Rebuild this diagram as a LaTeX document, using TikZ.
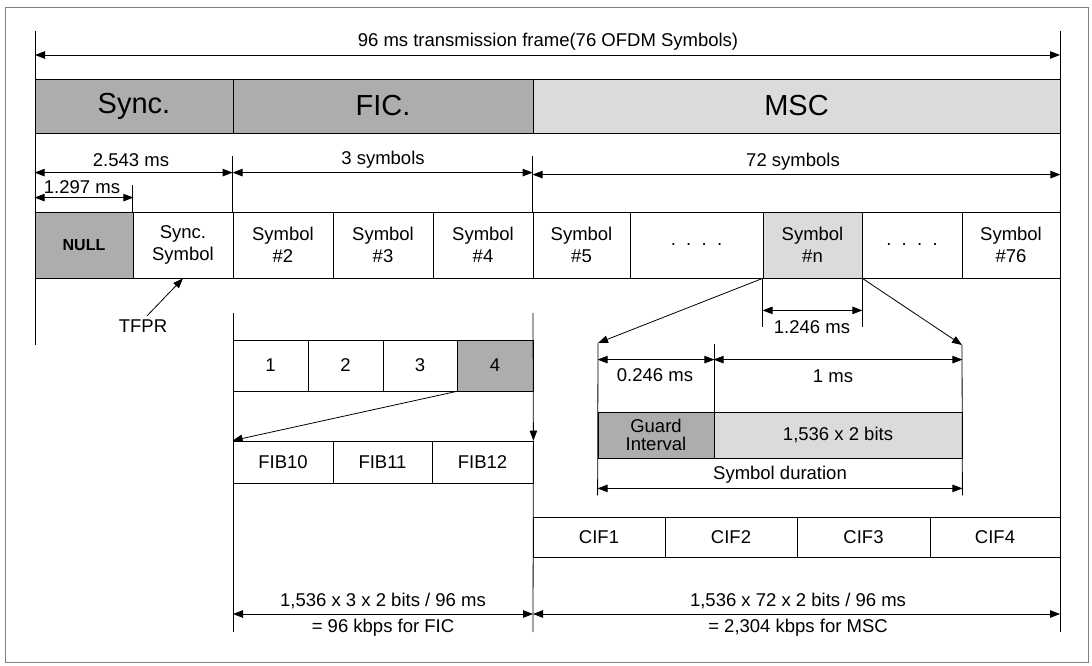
\documentclass[tikz,border=0pt]{standalone}
\usepackage{fontspec}
\setmainfont{Liberation Sans}
\usetikzlibrary{arrows.meta}
\definecolor{darkfill}{gray}{0.68}
\definecolor{lightfill}{gray}{0.86}
\begin{document}
\begin{tikzpicture}[x=1pt,y=-1pt,line width=0.8pt,
  >={Triangle[length=10pt,width=7.5pt]},
  txt/.style={font=\fontsize{18.5}{22}\selectfont},
  big/.style={font=\fontsize{29}{32}\selectfont},
  cell/.style={draw,inner sep=0pt,align=center,txt},
  dark/.style={fill=darkfill},
  light/.style={fill=lightfill}]
\useasboundingbox (0,0) rectangle (1092,666);
\draw[gray,line width=0.6pt] (5,7) rectangle (1088,662);

% frame borders
\coordinate (tl) at (35,31);
\coordinate (lb) at (35,345);
\coordinate (tr) at (1060,31);
\coordinate (rb) at (1060,632);
\draw (tl) -- (lb);
\draw (tr) -- (rb);
\coordinate (fa) at (35,55);
\coordinate (fb) at (1060,55);
\draw[<->] (fa) -- (fb);
\node[txt] (frame) at (548,42) {96 ms transmission frame(76 OFDM Symbols)};

% bands
\node[cell,dark,big,minimum width=198,minimum height=54] (bsync) at (134,106) {Sync.};
\node[cell,dark,big,minimum width=300,minimum height=54] (bfic) at (383,106) {FIC.};
\node[cell,light,big,minimum width=527,minimum height=54] (bmsc) at (796.5,106) {MSC};

% symbols
\begin{scope}[every node/.append style={minimum height=66}]
\node[cell,dark,minimum width=98,font=\fontsize{16}{19}\selectfont\bfseries] (null) at (84,245) {NULL};
\node[cell,minimum width=100] (ssym) at (183,245) {Sync.\\Symbol};
\node[cell,minimum width=100] (s2) at (283,245) {Symbol\\\#2};
\node[cell,minimum width=100] (s3) at (383,245) {Symbol\\\#3};
\node[cell,minimum width=100] (s4) at (483,245) {Symbol\\\#4};
\node[cell,minimum width=97] (s5) at (581.5,245) {Symbol\\\#5};
\node[cell,minimum width=133] (dotsa) at (696.5,245) {.\ \ .\ \ .\ \ .};
\node[cell,light,minimum width=99] (sn) at (812.5,245) {Symbol\\\#n};
\node[cell,minimum width=100] (dotsb) at (912,245) {.\ \ .\ \ .\ \ .};
\node[cell,minimum width=98] (s76) at (1011,245) {Symbol\\\#76};
\end{scope}

% dimensions above the symbols
\draw (s2.north west) -- ++(0,-56);
\draw (s5.north west) -- ++(0,-56);
\draw (ssym.north west) -- ++(0,-27);
\draw[<->] ([yshift=39pt]null.north west) -- ([yshift=39pt]s2.north west);
\draw[<->] ([yshift=39pt]s2.north west) -- ([yshift=39pt]s5.north west);
\draw[<->] ([yshift=37pt]s5.north west) -- ([yshift=37pt]s76.north east);
\draw[<->] ([yshift=14pt]null.north west) -- ([yshift=14pt]null.north east);
\node[txt] (d2543) at (131,160) {2.543 ms};
\node[txt] (d3sym) at (383,160) {3 symbols};
\node[txt] (d72sym) at (793,162) {72 symbols};
\node[txt] (d1297) at (82,187) {1.297 ms};

\node[txt] (tfpr) at (143,326) {TFPR};
\draw[->] ([xshift=4pt]tfpr.north) -- (ssym.south);

% FIC
\node[cell,minimum width=75,minimum height=51] (b1) at (270.5,365.5) {1};
\node[cell,minimum width=75,minimum height=51] (b2) at (345.5,365.5) {2};
\node[cell,minimum width=74,minimum height=51] (b3) at (420,365.5) {3};
\node[cell,dark,minimum width=76,minimum height=51] (b4) at (495,365.5) {4};
\node[cell,minimum width=100,minimum height=42] (fib10) at (283,462) {FIB10};
\node[cell,minimum width=99,minimum height=42] (fib11) at (382.5,462) {FIB11};
\node[cell,minimum width=101,minimum height=42] (fib12) at (482.5,462) {FIB12};
\coordinate (ficl) at (233,313);
\coordinate (ficr) at (533,313);
\coordinate (ficlb) at (233,632);
\coordinate (ficrb) at (533,632);
\draw (ficl) -- (ficlb);
\draw[->] (ficr) -- (fib12.north east);
\draw (fib12.north east) -- (ficrb);
\draw[->] (b4.south west) -- (fib10.north west);

% symbol n
\draw (sn.south west) -- ++(0,49);
\draw (sn.south east) -- ++(0,49);
\draw[<->] ([yshift=-32pt]sn.south west) -- ([yshift=-32pt]sn.south east);
\node[txt] (d1246) at (812,327) {1.246 ms};
\coordinate (gl) at (598,343);
\coordinate (gr) at (962,345);
\draw[->] (sn.south west) -- (gl);
\draw[->] (sn.south east) -- (gr);
\node[cell,dark,minimum width=116,minimum height=46] (guard) at (656,435) {Guard\\[-4pt]Interval};
\node[cell,light,minimum width=248,minimum height=46] (bits) at (838,435) {1,536 x 2 bits};
\draw (gl) -- ([yshift=-37pt]guard.south west);
\draw (gr) -- ([yshift=-37pt]bits.south east);
\draw (guard.north east) -- ++(0,-68);
\draw[<->] ([yshift=52pt]guard.north west) -- ([yshift=52pt]guard.north east);
\draw[<->] ([yshift=52pt]bits.north west) -- ([yshift=52pt]bits.north east);
\node[txt] (d0246) at (655,375) {0.246 ms};
\node[txt] (d1ms) at (833,376) {1 ms};
\draw[<->] ([yshift=-30pt]guard.south west) -- ([yshift=-30pt]bits.south east);
\node[txt] (dsym) at (780,475) {Symbol duration};

% CIF
\node[cell,minimum width=132,minimum height=40] (cif1) at (599,537) {CIF1};
\node[cell,minimum width=132,minimum height=40] (cif2) at (731,537) {CIF2};
\node[cell,minimum width=133,minimum height=40] (cif3) at (863.5,537) {CIF3};
\node[cell,minimum width=130,minimum height=40] (cif4) at (995,537) {CIF4};

% rates
\coordinate (ra) at (233,614);
\coordinate (rm) at (533,614);
\coordinate (rz) at (1060,614);
\draw[<->] (ra) -- (rm);
\draw[<->] (rm) -- (rz);
\node[txt] (rfic) at (383,601) {1,536 x 3 x 2 bits / 96 ms};
\node[txt] (kfic) at (383,628) {= 96 kbps for FIC};
\node[txt] (rmsc) at (798,601) {1,536 x 72 x 2 bits / 96 ms};
\node[txt] (kmsc) at (798,628) {= 2,304 kbps for MSC};
\end{tikzpicture}
\end{document}
